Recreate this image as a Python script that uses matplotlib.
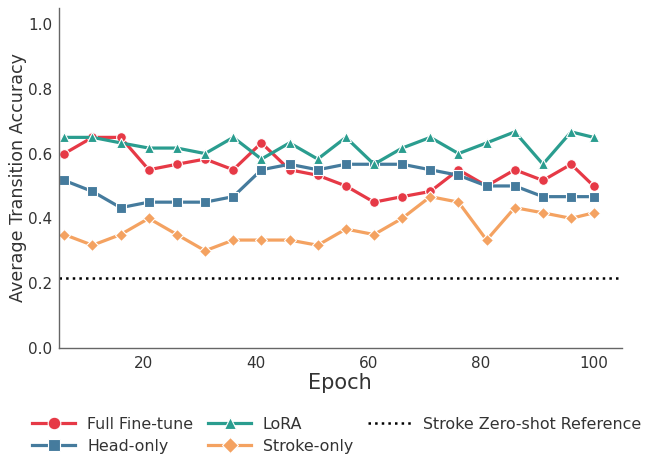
import matplotlib
matplotlib.use("Agg")
import matplotlib.pyplot as plt

epochs = [6, 11, 16, 21, 26, 31, 36, 41, 46, 51, 56, 61, 66, 71, 76, 81, 86, 91, 96, 100]
full_ft = [0.6, 0.65, 0.65, 0.55, 0.567, 0.583, 0.55, 0.633, 0.55, 0.533, 0.5, 0.45, 0.467, 0.483, 0.55, 0.5, 0.55, 0.517, 0.567, 0.5]
head_only = [0.517, 0.483, 0.433, 0.45, 0.45, 0.45, 0.467, 0.55, 0.567, 0.55, 0.567, 0.567, 0.567, 0.55, 0.533, 0.5, 0.5, 0.467, 0.467, 0.467]
lora = [0.65, 0.65, 0.633, 0.617, 0.617, 0.6, 0.65, 0.583, 0.633, 0.583, 0.65, 0.567, 0.617, 0.65, 0.6, 0.633, 0.667, 0.567, 0.667, 0.65]
stroke_only = [0.35, 0.317, 0.35, 0.4, 0.35, 0.3, 0.333, 0.333, 0.333, 0.317, 0.367, 0.35, 0.4, 0.467, 0.45, 0.333, 0.433, 0.417, 0.4, 0.417]
zero_shot_ref = 0.217

series = [
    ("Full Fine-tune", full_ft, "#E63946", "o", 7),
    ("Head-only", head_only, "#457B9D", "s", 6.5),
    ("LoRA", lora, "#2A9D8F", "^", 7),
    ("Stroke-only", stroke_only, "#F4A261", "D", 6.5),
]

fig = plt.figure(figsize=(6.45, 4.59), dpi=100)
ax = fig.add_axes([0.091, 0.242, 0.873, 0.741])

for name, vals, col, mk, ms in series:
    ax.plot(epochs, vals, color=col, marker=mk, lw=2.3, markersize=ms,
            markeredgecolor="white", markeredgewidth=0.8, label=name)
ax.axhline(zero_shot_ref, color="black", ls=":", lw=1.8, label="Stroke Zero-shot Reference")

ax.set_xlim(5, 105)
ax.set_ylim(0, 1.05)
ax.set_xticks([20, 40, 60, 80, 100])
ax.set_yticks([0.0, 0.2, 0.4, 0.6, 0.8, 1.0])
ax.tick_params(axis="both", length=0, labelsize=11, labelcolor="#333333")
ax.tick_params(axis="y", pad=4.5)
ax.tick_params(axis="x", pad=6)
ax.set_xlabel("Epoch", fontsize=15, color="#333333", labelpad=1)
ax.set_ylabel("Average Transition Accuracy", fontsize=12.6, color="#333333", labelpad=1)
for s in ["top", "right"]:
    ax.spines[s].set_visible(False)
for s in ["left", "bottom"]:
    ax.spines[s].set_color("#666666")
    ax.spines[s].set_linewidth(1.0)

fig.legend(loc="lower center", ncol=3, frameon=False, fontsize=11.4,
           bbox_to_anchor=(0.522, -0.02), columnspacing=0.95, handletextpad=0.75,
           handlelength=2.7, labelcolor="#333333", labelspacing=0.45, markerscale=1.3)

fig.savefig("out.png", dpi=100)
